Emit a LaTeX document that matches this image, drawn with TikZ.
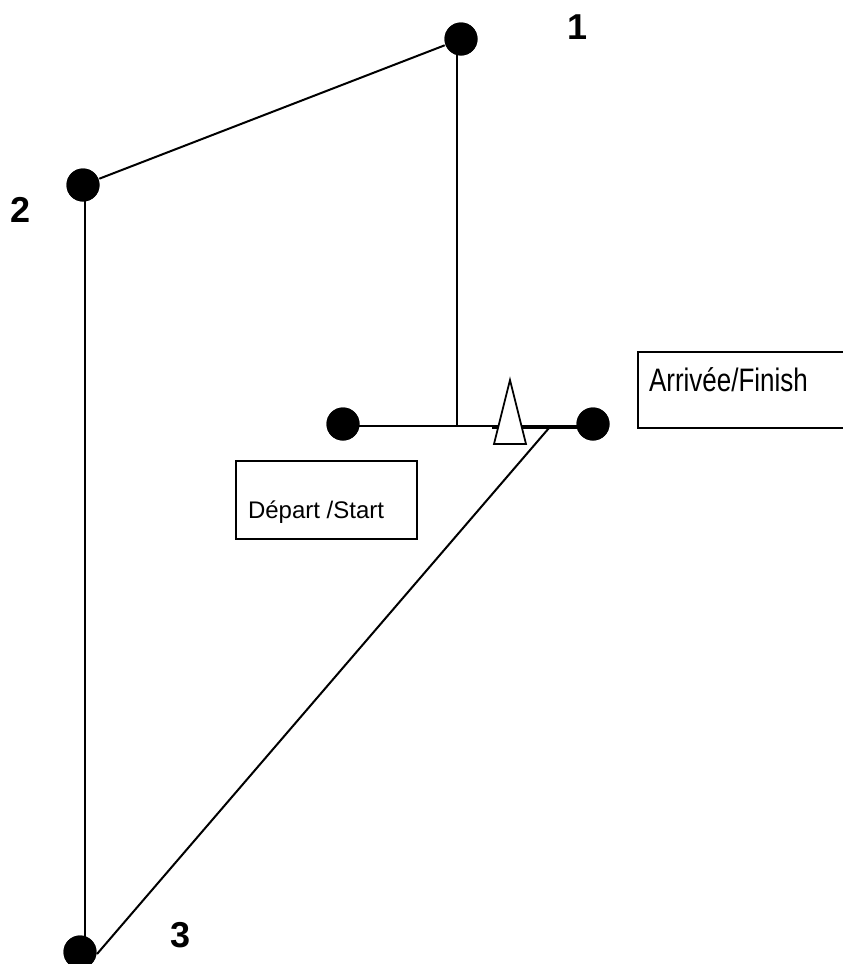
\documentclass[tikz,border=0pt]{standalone}
\usepackage{fontspec}
\setmainfont{Liberation Sans}
\begin{document}
\begin{tikzpicture}[x=1pt,y=-1pt,
  line width=2pt,
  dot/.style={circle,fill=black,draw=none,minimum size=33pt,inner sep=0pt},
  numlabel/.style={font=\fontsize{36}{40}\selectfont\bfseries,inner sep=0pt},
  boxlabel/.style={inner sep=0pt,anchor=base west},
  frame/.style={draw=black,line width=1.6pt,fill=white,inner sep=0pt,anchor=north west}]
\clip (0,0) rectangle (843,964);
\fill[white] (0,0) rectangle (843,964);
% coordinates
\coordinate (j1) at (457,426);
\coordinate (hL) at (343,426);
\coordinate (hR) at (593,426);
\coordinate (vTop) at (85,185);
\coordinate (vBot) at (85,950);
\coordinate (diagA) at (549,428);
\coordinate (diagB) at (97,954);
\coordinate (thickA) at (492,427);
\coordinate (thickB) at (585,427);
% dots (positions)
\node[dot] (d1) at (461,39) {};
\node[dot] (d2) at (83,185) {};
\node[dot] (d3) at (80,952) {};
\node[dot] (dL) at (343,424) {};
\node[dot] (dR) at (593,424) {};
% lines
\draw (d2) -- (d1);
\draw (j1 |- d1.center) -- (j1);
\draw (hL) -- (hR);
\draw[line width=3.4pt] (thickA) -- (thickB);
\draw (vTop) -- (vBot);
\draw (diagA) -- (diagB);
% redraw dots on top
\node[dot] at (d1) {};
\node[dot] at (d2) {};
\node[dot] at (d3) {};
\node[dot] at (dL) {};
\node[dot] at (dR) {};
% triangle marker
\coordinate (tA) at (510,380);
\coordinate (tB) at (494,444);
\coordinate (tC) at (526,444);
\draw[fill=white,line width=1.8pt,line join=miter] (tA) -- (tB) -- (tC) -- cycle;
% boxes
\node[frame,minimum width=181pt,minimum height=78pt] (startbox) at (235,460) {};
\node[boxlabel,font=\fontsize{24}{28}\selectfont] (starttxt) at (247,518) {Départ /Start};
\node[frame,minimum width=230pt,minimum height=76pt] (finishbox) at (637,351) {};
\node[boxlabel,font=\fontsize{26}{30}\selectfont] (finishtxt) at (648,391) {\scalebox{1}[1.25]{Arrivée/Finish}};
% numbers
\node[numlabel] (n1) at (578,27) {1};
\node[numlabel] (n2) at (21,210) {2};
\node[numlabel] (n3) at (181,935) {3};
\end{tikzpicture}
\end{document}
